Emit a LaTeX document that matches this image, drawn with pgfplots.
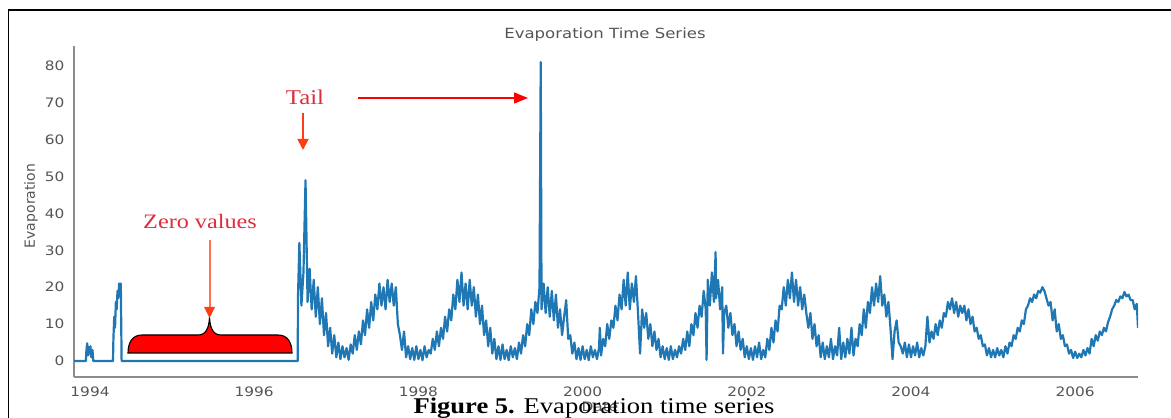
\documentclass[border=0pt]{standalone}
\usepackage{pgfplots}
\pgfplotsset{compat=1.18}
\usepackage{pgfplotstable}
\usepackage{fontspec}
\setmainfont{Liberation Serif}
\newfontfamily\dejavu{DejaVu Sans}
\usetikzlibrary{arrows.meta}
\definecolor{mplblue}{RGB}{31,119,180}
\definecolor{ticktxt}{RGB}{85,85,85}
\definecolor{spine}{RGB}{140,140,140}
\definecolor{annred}{RGB}{222,45,60}
\definecolor{arrowor}{RGB}{255,60,20}
\definecolor{zeroarrow}{RGB}{255,110,80}
\newcommand{\hs}[1]{\scalebox{1.18}[1]{#1}}
\newcommand{\tk}[1]{\hs{\dejavu\fontsize{13}{13}\selectfont #1}}

\pgfplotstableread{
x y
1993.805 0
1993.950 0
1993.955 2.5
1993.965 4.8
1993.975 1.5
1993.985 3.8
1993.995 2
1994.005 4
1994.015 1
1994.030 3
1994.040 0
1994.280 0
1994.285 6
1994.295 12
1994.305 9
1994.315 16
1994.325 14
1994.335 19
1994.345 17
1994.355 21
1994.365 20
1994.375 21
1994.385 0
1996.530 0
1996.533 17
1996.550 32
1996.575 15
1996.600 24
1996.625 49
1996.650 16
1996.675 25
1996.700 14
1996.725 22
1996.750 12
1996.775 20
1996.800 10
1996.825 17
1996.850 7
1996.875 13
1996.900 4
1996.925 9
1996.950 2
1996.975 7
1997.000 1
1997.025 5
1997.050 0.5
1997.075 4
1997.100 1
1997.125 3.5
1997.150 0.3
1997.175 4.5
1997.200 2
1997.225 7
1997.250 3
1997.275 8
1997.300 4.5
1997.325 11
1997.350 7
1997.375 14
1997.400 9
1997.425 16
1997.450 11
1997.475 18
1997.500 14
1997.525 21
1997.550 15
1997.575 20
1997.600 14
1997.625 22
1997.650 16
1997.675 21
1997.700 15
1997.725 20
1997.750 10
1997.775 7
1997.800 3
1997.825 8
1997.850 1
1997.875 4
1997.900 0.5
1997.925 3.5
1997.950 0.3
1997.975 4
1998.000 0.5
1998.025 3
1998.050 0.2
1998.075 4
1998.100 1
1998.125 3
1998.150 2
1998.175 6
1998.200 3
1998.225 8
1998.250 4
1998.275 9
1998.300 6
1998.325 12
1998.350 8
1998.375 14
1998.400 11
1998.425 18
1998.450 14
1998.475 22
1998.500 16
1998.525 24
1998.550 15
1998.575 21
1998.600 14
1998.625 22
1998.650 15
1998.675 20
1998.700 12
1998.725 18
1998.750 10
1998.775 15
1998.800 7
1998.825 11
1998.850 4
1998.875 9
1998.900 2
1998.925 6
1998.950 0.5
1998.975 4
1999.000 0.3
1999.025 4.5
1999.050 0.5
1999.075 3
1999.100 0.2
1999.125 4
1999.150 1
1999.175 3.5
1999.200 0.5
1999.225 5
1999.250 2
1999.275 7
1999.300 4
1999.325 10
1999.350 7
1999.375 14
1999.400 10
1999.425 16
1999.450 13
1999.475 20
1999.490 81
1999.500 14
1999.525 21
1999.550 13
1999.575 20
1999.600 12
1999.625 19
1999.650 11
1999.675 18
1999.700 9
1999.725 14
1999.750 7
1999.775 12
1999.800 16.5
1999.825 6
1999.850 7
1999.875 2
1999.900 5
1999.925 0.5
1999.950 3.5
1999.975 0.3
2000.000 4
2000.025 0.5
2000.050 3
2000.075 0.2
2000.100 4
2000.125 1
2000.150 3
2000.175 0.5
2000.200 3.5
2000.210 9
2000.225 1.5
2000.250 6
2000.275 4
2000.300 10
2000.325 6
2000.350 11
2000.375 9
2000.400 15
2000.425 11
2000.450 18
2000.475 14
2000.500 22
2000.525 15
2000.550 24
2000.575 14
2000.600 21
2000.625 16
2000.650 23
2000.675 13
2000.700 2
2000.725 14
2000.750 9
2000.775 13
2000.800 6
2000.825 10
2000.850 4
2000.875 8
2000.900 3
2000.925 6
2000.950 1
2000.975 4
2001.000 0.5
2001.025 3.5
2001.050 0.3
2001.075 4
2001.100 0.5
2001.125 3
2001.150 1
2001.175 4
2001.200 2
2001.225 6
2001.250 3
2001.275 8
2001.300 4
2001.325 10
2001.350 7
2001.375 13
2001.400 9
2001.425 15
2001.450 12
2001.475 19
2001.500 14
2001.510 0.3
2001.525 22
2001.550 15
2001.575 24
2001.600 16
2001.620 29.5
2001.625 17
2001.650 22
2001.675 14
2001.700 20
2001.710 2
2001.725 13
2001.750 15
2001.775 9
2001.800 13
2001.825 7
2001.850 10
2001.875 4
2001.900 8
2001.925 3
2001.950 6
2001.975 1
2002.000 4
2002.025 0.5
2002.050 3.5
2002.075 0.3
2002.100 4
2002.125 1
2002.150 5
2002.175 0.5
2002.200 3
2002.225 1
2002.250 6
2002.275 3
2002.300 9
2002.325 5
2002.350 11
2002.375 8
2002.400 15
2002.425 14
2002.450 20
2002.475 15
2002.500 22
2002.525 17
2002.550 24
2002.575 16
2002.600 22
2002.625 15
2002.650 20
2002.675 14
2002.700 18
2002.725 13
2002.750 9
2002.775 13
2002.800 6
2002.825 10
2002.850 4
2002.875 7
2002.900 1
2002.925 5
2002.950 0.5
2002.975 4
2003.000 1
2003.025 6
2003.050 0.5
2003.075 4
2003.100 1.5
2003.125 9
2003.150 0.5
2003.175 5
2003.200 1
2003.225 6
2003.250 2
2003.275 9
2003.300 1.5
2003.325 6
2003.350 4
2003.375 10
2003.400 7
2003.425 14
2003.450 9
2003.475 16
2003.500 13
2003.525 20
2003.550 15
2003.575 21
2003.600 16
2003.625 23
2003.650 15
2003.675 18
2003.700 12
2003.725 16
2003.750 9
2003.775 0.5
2003.800 8
2003.825 11
2003.850 5
2003.875 4
2003.900 2
2003.925 5
2003.950 1
2003.975 4.5
2004.000 1
2004.025 4
2004.050 1.5
2004.075 5
2004.100 1
2004.125 3.5
2004.150 1.5
2004.175 4
2004.200 12
2004.225 5
2004.250 8
2004.275 6
2004.300 10
2004.325 7
2004.350 11
2004.375 9
2004.400 13
2004.425 12
2004.450 16
2004.475 14
2004.500 17
2004.525 13
2004.550 16
2004.575 12
2004.600 15
2004.625 13
2004.650 15
2004.675 11
2004.700 14
2004.725 10
2004.750 12
2004.775 8
2004.800 9
2004.825 6
2004.850 7
2004.875 4
2004.900 4.5
2004.925 1.5
2004.950 3.5
2004.975 1
2005.000 3
2005.025 1
2005.050 3.5
2005.075 1.5
2005.100 3
2005.125 1
2005.150 4
2005.175 2
2005.200 5
2005.225 4
2005.250 7
2005.275 6
2005.300 9
2005.325 8
2005.350 11
2005.375 10
2005.400 14
2005.425 15
2005.450 17
2005.475 16
2005.500 18
2005.525 17
2005.550 19
2005.575 18.5
2005.600 20
2005.625 19
2005.650 17
2005.675 15
2005.700 16
2005.725 11
2005.750 14
2005.775 8
2005.800 10
2005.825 6
2005.850 7
2005.875 4
2005.900 4.5
2005.925 2
2005.950 3
2005.975 0.8
2006.000 2.5
2006.025 0.8
2006.050 2
2006.075 1
2006.100 3
2006.125 1.5
2006.150 3.5
2006.175 2
2006.200 6
2006.225 4
2006.250 7
2006.275 5.5
2006.300 8
2006.325 7
2006.350 9
2006.375 8
2006.400 10.5
2006.425 12
2006.450 14
2006.475 15
2006.500 16.5
2006.525 16
2006.550 17.5
2006.575 17
2006.600 18.7
2006.625 17.5
2006.650 18
2006.675 16.5
2006.700 16.5
2006.725 14
2006.750 15.5
2006.765 9
}\evap

\begin{document}
\begin{tikzpicture}
\begin{axis}[
  at={(74pt,41pt)}, anchor=south west,
  scale only axis, width=1064pt, height=331pt,
  xmin=1993.805, xmax=2006.765,
  ymin=-4.34, ymax=85.37,
  axis x line*=bottom, axis y line*=left,
  axis line style={color=spine, line width=1.4pt},
  major tick length=0pt,
  xtick={1994,1996,1998,2000,2002,2004,2006},
  xticklabels={\tk{1994},\tk{1996},\tk{1998},\tk{2000},\tk{2002},\tk{2004},\tk{2006}},
  ytick={0,10,20,30,40,50,60,70,80},
  yticklabels={\tk{0},\tk{10},\tk{20},\tk{30},\tk{40},\tk{50},\tk{60},\tk{70},\tk{80}},
  tick label style={color=ticktxt},
  xticklabel style={yshift=-6pt},
  yticklabel style={xshift=-6pt},
]
\addplot[mplblue, line width=2.2pt, line join=round, no marks] table[x=x,y=y] {\evap};
\end{axis}

\begin{scope}[x=1pt,y=1pt]
% frame
\draw[black, line width=1.6pt] (8.5,0) -- (8.5,408) -- (1172,408);
% title and axis labels
\node[color=ticktxt] at (605,383) {\hs{\dejavu\fontsize{14}{14}\selectfont Evaporation Time Series}};
\node[color=ticktxt, rotate=90] at (31,212) {\dejavu\fontsize{14}{14}\selectfont Evaporation};
\node[color=ticktxt, anchor=base] at (600,6) {\hs{\dejavu\fontsize{13}{13}\selectfont Date}};
% caption
\node[anchor=base, inner sep=0pt] at (594,5) {\hs{\fontsize{22.5}{24}\selectfont\textbf{Figure 5.} Evaporation time series}};
% Tail annotation
\node[color=annred] at (305,321) {\hs{\fontsize{21}{22}\selectfont Tail}};
\draw[draw=arrowor, line width=1.8pt, -{Triangle[length=11pt,width=11pt]}] (303,305) -- (303,268);
\draw[draw=red, line width=1.3pt, -{Triangle[length=14pt,width=11pt]}] (358,320) -- (528,320);
% Zero values annotation
\node[color=annred] at (200,197) {\hs{\fontsize{20.5}{22}\selectfont Zero values}};
\draw[black, line width=1.1pt, fill=red]
  (128,65) -- (292,65) .. controls (292,75) and (288,83) .. (278,83)
  -- (221,83) .. controls (213,83) and (210,90) .. (209.5,101)
  .. controls (209,90) and (206,83) .. (198,83)
  -- (142,83) .. controls (132,83) and (128,75) .. (128,65) -- cycle;
\draw[zeroarrow, line width=2pt] (209.5,178) -- (209.5,108);
\fill[arrowor] (204,111) -- (215,111) -- (209.5,100) -- cycle;
\end{scope}
\pgfresetboundingbox
\useasboundingbox (0,0) rectangle (1171pt,418pt);
\end{tikzpicture}
\end{document}
